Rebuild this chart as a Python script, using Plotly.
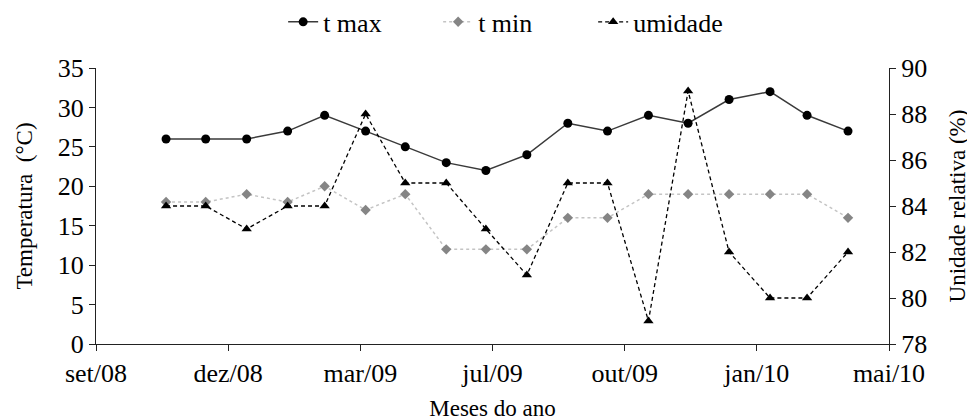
import datetime as dt
import plotly.graph_objects as go

# ---- data ----
months = ["2008-11-01", "2008-12-01", "2009-01-01", "2009-02-01", "2009-03-01", "2009-04-01",
          "2009-05-01", "2009-06-01", "2009-07-01", "2009-08-01", "2009-09-01", "2009-10-01",
          "2009-11-01", "2009-12-01", "2010-01-01", "2010-02-01", "2010-03-01", "2010-04-01"]
t_max = [26, 26, 26, 27, 29, 27, 25, 23, 22, 24, 28, 27, 29, 28, 31, 32, 29, 27]
t_min = [18, 18, 19, 18, 20, 17, 19, 12, 12, 12, 16, 16, 19, 19, 19, 19, 19, 16]
umidade = [84, 84, 83, 84, 84, 88, 85, 85, 83, 81, 85, 85, 79, 89, 82, 80, 80, 82]
x_tick_labels = ["set/08", "dez/08", "mar/09", "jul/09", "out/09", "jan/10", "mai/10"]

FONT = "Liberation Serif, Times New Roman, serif"
AX = "#222222"
TICK_FS = 26
TITLE_FS = 23
LEG_FS = 26

start = dt.date(2008, 9, 9)
tickvals = [(start + dt.timedelta(days=100 * i)).isoformat() for i in range(len(x_tick_labels))]

fig = go.Figure()
fig.add_trace(go.Scatter(x=months, y=t_max, name="t max", mode="lines+markers",
                         line=dict(color="#3a3a3a", width=1.5),
                         marker=dict(symbol="circle", size=9, color="black")))
fig.add_trace(go.Scatter(x=months, y=t_min, name="t min", mode="lines+markers",
                         line=dict(color="#c4c4c4", width=1.5, dash="dot"),
                         marker=dict(symbol="diamond", size=8, color="#858585")))
fig.add_trace(go.Scatter(x=months, y=umidade, name="umidade", mode="lines+markers", yaxis="y2",
                         line=dict(color="black", width=1.3, dash="4px,3px"),
                         marker=dict(symbol="triangle-up", size=9, color="black")))

fig.update_layout(
    width=975, height=419,
    margin=dict(l=88, r=94, t=60, b=83, autoexpand=False),
    paper_bgcolor="white", plot_bgcolor="white",
    font=dict(family=FONT, size=TICK_FS, color="black"),
    showlegend=True,
    legend=dict(orientation="h", x=0.236, xanchor="left", y=1.167, yanchor="middle",
                font=dict(family=FONT, size=LEG_FS), entrywidth=110, entrywidthmode="pixels",
                bgcolor="rgba(0,0,0,0)"),
    xaxis=dict(type="date", range=[tickvals[0], tickvals[-1]], tickmode="array",
               tickvals=tickvals, ticktext=x_tick_labels, showgrid=False, zeroline=False,
               showline=True, linecolor=AX, linewidth=1, ticks="outside", ticklen=6,
               tickcolor=AX, tickfont=dict(family=FONT, size=TICK_FS), automargin=False,
               title=dict(text="Meses do ano", font=dict(family=FONT, size=TITLE_FS), standoff=12)),
    yaxis=dict(range=[0, 35], dtick=5, showgrid=False, zeroline=False, showline=True,
               linecolor=AX, linewidth=1, ticks="outside", ticklen=6, tickcolor=AX,
               tickfont=dict(family=FONT, size=TICK_FS), automargin=False,
               title=dict(text="Temperatura  (°C)", font=dict(family=FONT, size=TITLE_FS), standoff=18)),
    yaxis2=dict(range=[78, 90], dtick=2, overlaying="y", side="right", showgrid=False,
                zeroline=False, showline=True, linecolor=AX, linewidth=1, ticks="outside",
                ticklen=6, tickcolor=AX, tickfont=dict(family=FONT, size=TICK_FS), automargin=False,
                title=dict(text="Unidade relativa (%)", font=dict(family=FONT, size=TITLE_FS), standoff=22)),
)

fig.write_html("out.html")
